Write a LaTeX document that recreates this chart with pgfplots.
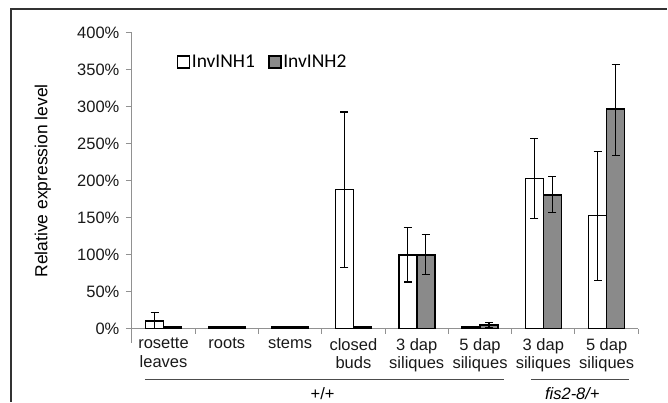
\documentclass[border=0pt]{standalone}
\usepackage{fontspec}
\setmainfont{Liberation Sans}
\newfontfamily\calfont{Carlito}
\usepackage{pgfplots}
\pgfplotsset{compat=1.18}
\definecolor{barg}{RGB}{138,138,138}
\definecolor{axg}{RGB}{145,145,145}
\definecolor{frameg}{RGB}{50,50,50}

\begin{document}
\begin{tikzpicture}
\path (0pt,0pt) rectangle (668pt,402pt);
\draw[frameg, line width=1.5pt] (11pt,0pt) -- (11pt,393pt) -- (668pt,393pt);
\begin{axis}[
  at={(132pt,73pt)}, anchor=south west,
  scale only axis, width=507pt, height=296pt,
  xmin=-0.5, xmax=7.5, ymin=0, ymax=400,
  ybar=0pt, bar width=18pt,
  axis x line=bottom, axis y line=left,
  axis line style={draw=axg, line width=1pt, -},
  tick align=outside,
  major tick length=6pt, minor tick length=5pt,
  ytick={0,50,...,400},
  yticklabel={\pgfmathprintnumber{\tick}\%},
  yticklabel style={xshift=-3pt},
  major y tick style={draw=axg, line width=1pt},
  xtick={0,...,7},
  major x tick style={draw=none},
  minor xtick={-0.5,0.5,...,7.5},
  minor x tick style={draw=axg, line width=1pt},
  xticklabels={rosette\\leaves, roots, stems, closed\\buds, 3 dap\\siliques,
    5 dap\\siliques, 3 dap\\siliques, 5 dap\\siliques},
  xticklabel style={align=center},
  tick label style={font=\fontsize{16.5}{18.8}\selectfont, text=black!90},
  /pgf/number format/assume math mode=true,
  ylabel={Relative expression level},
  ylabel style={at={(axis description cs:-0.1755,0.5)}, anchor=center,
    font=\fontsize{17.5}{20}\selectfont},
  legend style={at={(0.0887,0.902)}, anchor=west, draw=none, fill=none,
    inner sep=0pt, legend columns=2,
    font=\calfont\fontsize{19.5}{22}\selectfont,
    nodes={inner sep=1.5pt},
    /tikz/every even column/.append style={column sep=12pt}},
  error bars/y dir=both, error bars/y explicit,
  error bars/error bar style={line width=1.2pt, black},
  error bars/error mark options={rotate=90, mark size=4pt, line width=1.2pt, black},
]
% InvINH1
\addplot[fill=white, draw=black, line width=1.6pt,
  legend image code/.code={\draw[fill=white, draw=black, line width=1.4pt]
    (0pt,-6pt) rectangle (12pt,6pt);}]
  coordinates {
  (0,10) += (0,12) -= (0,10)
  (1,2) += (0,0) -= (0,0)
  (2,2) += (0,1) -= (0,1)
  (3,188) += (0,105) -= (0,105)
  (4,100) += (0,37) -= (0,37)
  (5,2) += (0,0) -= (0,0)
  (6,203) += (0,54) -= (0,54)
  (7,153) += (0,87) -= (0,88)};
\addlegendentry{InvINH1}
% InvINH2
\addplot[fill=barg, draw=black, line width=1.6pt,
  legend image code/.code={\draw[fill=barg, draw=black, line width=1.4pt]
    (0pt,-6pt) rectangle (12pt,6pt);}]
  coordinates {
  (0,2) += (0,0) -= (0,0)
  (1,2) += (0,0) -= (0,0)
  (2,2) += (0,0) -= (0,0)
  (3,2) += (0,0) -= (0,0)
  (4,100) += (0,27) -= (0,27)
  (5,5) += (0,3) -= (0,3)
  (6,181) += (0,25) -= (0,24)
  (7,297) += (0,60) -= (0,63)};
\addlegendentry{InvINH2}
\end{axis}
\draw[axg, line width=1pt] (132pt,73pt) -- (132pt,59pt);
\draw[black!70, line width=1.5pt] (145pt,22pt) -- (505pt,22pt);
\draw[black!70, line width=1.5pt] (532pt,22pt) -- (630pt,22pt);
\node[font=\fontsize{16.5}{19}\selectfont, inner sep=0pt] at (323pt,8pt) {+/+};
\node[font=\fontsize{16.5}{19}\selectfont\itshape, inner sep=0pt] at (573pt,8pt) {fis2-8/+};
\end{tikzpicture}
\end{document}
